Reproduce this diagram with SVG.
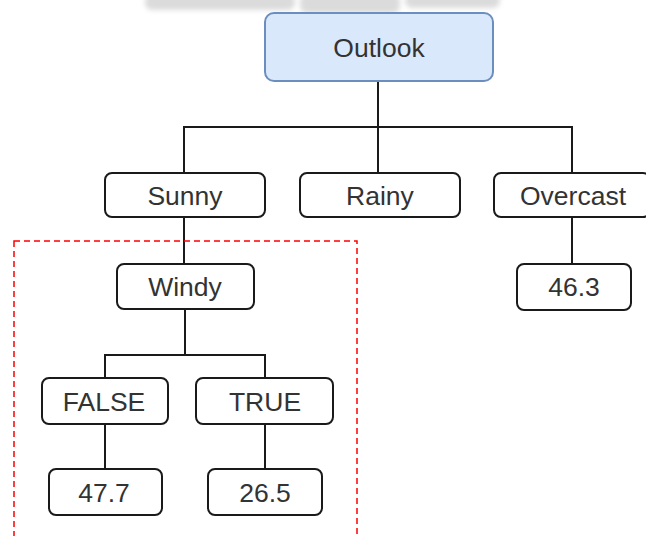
<svg xmlns="http://www.w3.org/2000/svg" width="646" height="536" viewBox="0 0 646 536">
<style>
.box{fill:#ffffff;stroke:#1a1a1a;stroke-width:2}
.root{fill:#dae8fc;stroke:#6c8ebf;stroke-width:2}
.lbl{font-family:"Liberation Sans",Arial,sans-serif;font-size:26.5px;fill:#333333;text-anchor:middle}
.edge{fill:none;stroke:#1a1a1a;stroke-width:2}
</style>
<defs>
<filter id="blur" x="-20%" y="-100%" width="140%" height="300%"><feGaussianBlur stdDeviation="2.5"/></filter>
</defs>
<rect width="646" height="536" fill="#ffffff"/>
<g id="watermark" filter="url(#blur)" opacity="0.45">
<rect x="145" y="-6" width="150" height="16" rx="7" fill="#b0b0b0"/>
<rect x="300" y="-6" width="100" height="19" rx="7" fill="#b0b0b0"/>
<rect x="405" y="-6" width="95" height="14" rx="7" fill="#b0b0b0"/>
</g>
<g id="connectors">
<path class="edge" d="M378 81 V127 M184 173 V127 H572 V173 M378 127 V173"/>
<path class="edge" d="M184 217 V263"/>
<path class="edge" d="M185 309 V355 M105 378 V355 H265 V378"/>
<path class="edge" d="M105 424 V469"/>
<path class="edge" d="M265 424 V469"/>
<path class="edge" d="M572 217 V264"/>
</g>
<g id="region">
<rect x="14" y="241" width="343" height="320" fill="none" stroke="#ff0000" stroke-width="1.5" stroke-dasharray="6 4"/>
</g>
<g id="outlook"><rect class="root" x="265" y="13" width="228" height="68" rx="9"/><text class="lbl" x="379" y="57">Outlook</text></g>
<g id="sunny"><rect class="box" x="105" y="173" width="160" height="44" rx="7"/><text class="lbl" x="185" y="205">Sunny</text></g>
<g id="rainy"><rect class="box" x="300" y="173" width="160" height="44" rx="7"/><text class="lbl" x="380" y="205">Rainy</text></g>
<g id="overcast"><rect class="box" x="494" y="173" width="156" height="44" rx="7"/><text class="lbl" x="573" y="205">Overcast</text></g>
<g id="windy"><rect class="box" x="117" y="264" width="137" height="45" rx="7"/><text class="lbl" x="185" y="296">Windy</text></g>
<g id="v463"><rect class="box" x="517" y="264" width="114" height="46" rx="7"/><text class="lbl" x="574" y="296">46.3</text></g>
<g id="false"><rect class="box" x="42" y="378" width="126" height="46" rx="7"/><text class="lbl" x="104" y="411">FALSE</text></g>
<g id="true"><rect class="box" x="196" y="378" width="137" height="46" rx="7"/><text class="lbl" x="265" y="411">TRUE</text></g>
<g id="v477"><rect class="box" x="49" y="469" width="113" height="46" rx="7"/><text class="lbl" x="104" y="502">47.7</text></g>
<g id="v265"><rect class="box" x="208" y="469" width="114" height="46" rx="7"/><text class="lbl" x="265" y="502">26.5</text></g>
</svg>
